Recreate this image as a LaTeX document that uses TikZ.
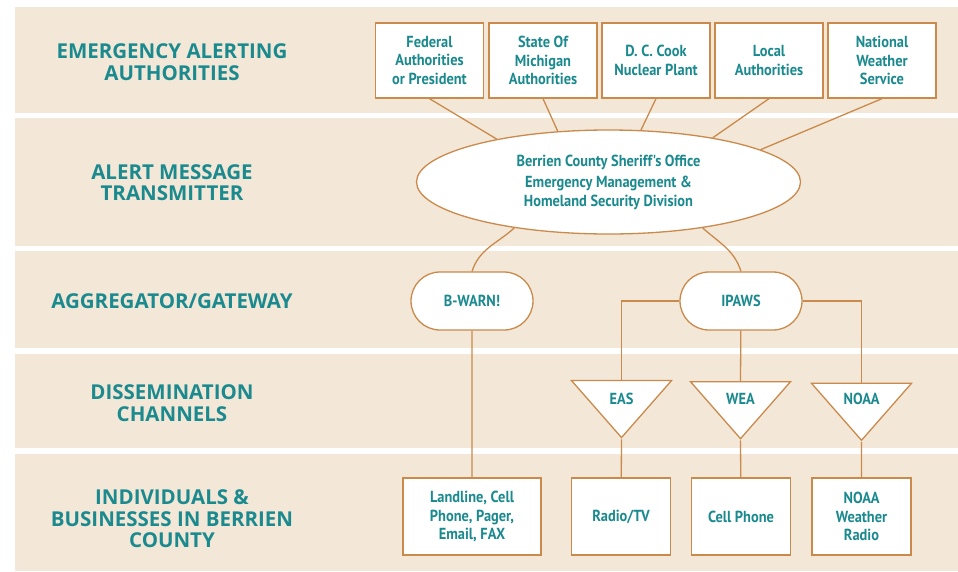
\documentclass[tikz,border=0pt]{standalone}
\usepackage{fontspec}
\setmainfont{PT Sans}
\newfontfamily\narrowsf[FakeStretch=0.9]{PT Sans}
\newfontfamily\tiersf{Open Sans}
\usepackage{tikz}
\usetikzlibrary{positioning,shapes.geometric,shapes.misc}

\definecolor{bandtan}{HTML}{F3E7D8}
\definecolor{rust}{HTML}{C98A4B}
\definecolor{tealink}{HTML}{1B8A8F}

\tikzset{
  band/.style={fill=bandtan},
  tier/.style={text=tealink, align=center, font=\tiersf\bfseries\fontsize{20.5}{21.5}\selectfont},
  boxtext/.style={text=tealink, align=center, inner sep=0pt, font=\narrowsf\bfseries\fontsize{16}{18.5}\selectfont},
  framed/.style={boxtext, draw=rust, fill=white, line width=1.3pt},
  srcbox/.style={framed, minimum width=108pt, minimum height=75pt},
  sinkbox/.style={framed, minimum width=99pt, minimum height=77pt},
  hub/.style={framed, ellipse, minimum width=384pt, minimum height=104pt},
  gate/.style={framed, rounded rectangle, minimum width=122pt, minimum height=58pt},
  chan/.style={framed, isosceles triangle, isosceles triangle stretches, shape border rotate=-90, minimum width=100pt, minimum height=57pt},
  link/.style={draw=rust, line width=1.3pt},
}

\begin{document}
\begin{tikzpicture}[x=1pt, y=-1pt]

    \useasboundingbox (0,0) rectangle (958,571);

    % background bands, one per tier
    \foreach \top/\bot in {7/113, 118/246, 251/348, 354/448, 454/571}
      \fill[band] (15,\top) rectangle (958,\bot);

    \node[tier] (t1) at (172, 62) {EMERGENCY ALERTING\\AUTHORITIES};
    \node[tier] (t2) at (172, 182.5) {ALERT MESSAGE\\TRANSMITTER};
    \node[tier] (t3) at (172, 301) {AGGREGATOR/GATEWAY};
    \node[tier] (t4) at (172, 403) {DISSEMINATION\\CHANNELS};
    \node[tier] (t5) at (172, 519) {INDIVIDUALS \&\\BUSINESSES IN BERRIEN\\COUNTY};

    % authorities
    \node[srcbox] (fed) at (429.5, 60.5) {Federal\\Authorities\\or President};
    \node[srcbox] (state) at (543, 60.5) {State Of\\Michigan\\Authorities};
    \node[srcbox] (cook) at (656, 60.5) {D. C. Cook\\Nuclear Plant};
    \node[srcbox] (local) at (769, 60.5) {Local\\Authorities};
    \node[srcbox] (nws) at (882, 60.5) {National\\Weather\\Service};

    \node[hub] (sheriff) at (608.5, 182) {Berrien County Sheriff's Office\\[3pt]Emergency Management \&\\Homeland Security Division};

    \node[gate] (bwarn) at (472, 301) {B-WARN!};
    \node[gate] (ipaws) at (741, 301) {IPAWS};

    \node[chan] (eas) at (621.5, 399) {EAS};
    \node[chan] (wea) at (740.5, 399) {WEA};
    \node[chan] (noaa) at (861.5, 399) {NOAA};

    \node[sinkbox, minimum width=138pt] (phones) at (472, 516.5) {Landline, Cell\\Phone, Pager,\\Email, FAX};
    \node[sinkbox] (radio) at (621, 516.5) {Radio/TV};
    \node[sinkbox] (cell) at (741, 516.5) {Cell Phone};
    \node[sinkbox] (wxradio) at (861.5, 516.5) {NOAA\\Weather\\Radio};

    \draw[link] (fed.south) to (sheriff.159);
    \draw[link] (state.south) to (sheriff.135);
    \draw[link] (cook.south) to (sheriff.58);
    \draw[link] (local.south) to (sheriff.23);
    \draw[link] (nws.south) to (sheriff.12);

    \draw[link] (sheriff.206) to[out=222, in=72] (bwarn.north);
    \draw[link] (sheriff.334) to[out=318, in=108] (ipaws.north);

    \draw[link] (bwarn) to (phones);
    \draw[link] (ipaws.west) -| (eas.north);
    \draw[link] (ipaws) to (wea.north);
    \draw[link] (ipaws.east) -| (noaa.north);

    \draw[link] (eas.south) to (radio);
    \draw[link] (wea.south) to (cell);
    \draw[link] (noaa.south) to (wxradio);

\end{tikzpicture}
\end{document}
